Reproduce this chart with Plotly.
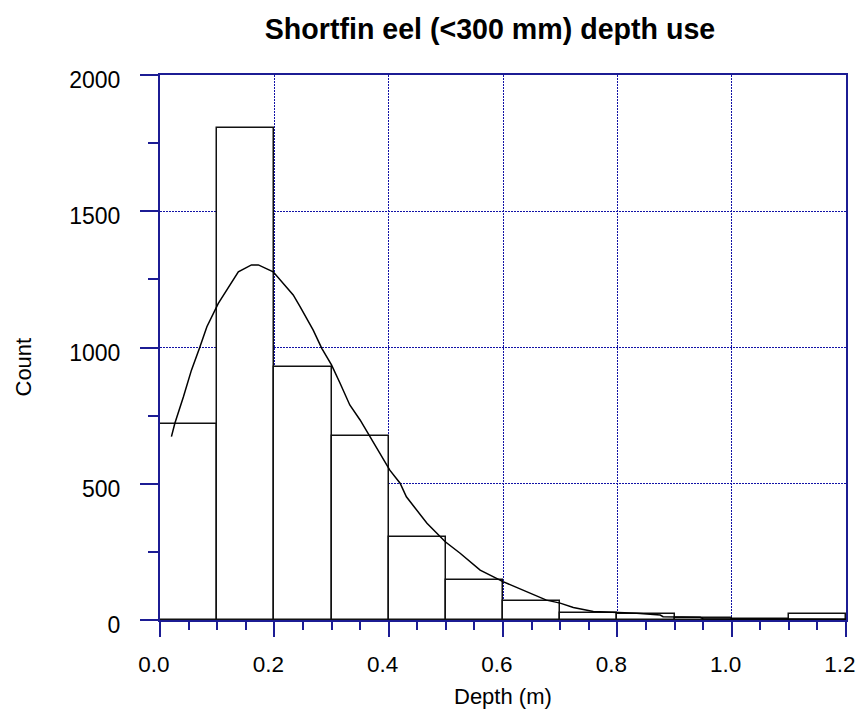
import plotly.graph_objects as go

# Histogram bins (depth, m) and counts
bin_left = [0.0, 0.1, 0.2, 0.3, 0.4, 0.5, 0.6, 0.7, 0.8, 0.9, 1.0, 1.1]
bin_width = 0.1
counts = [719, 1804, 930, 674, 305, 148, 71, 27, 22, 8, 2, 22]

# Smoothed density curve (scaled to counts)
curve_x = [0.020, 0.026, 0.041, 0.055, 0.069, 0.082, 0.102, 0.120, 0.137, 0.160, 0.172,
           0.198, 0.233, 0.245, 0.268, 0.283, 0.300, 0.315, 0.332, 0.350, 0.373, 0.402,
           0.420, 0.431, 0.467, 0.499, 0.525, 0.560, 0.600, 0.641, 0.676, 0.700, 0.723,
           0.758, 0.799, 0.834, 0.875, 0.880, 0.945, 0.950, 1.000, 1.100, 1.200]
curve_y = [673, 722, 819, 917, 997, 1076, 1162, 1223, 1278, 1303, 1303,
           1278, 1193, 1150, 1064, 997, 936, 869, 789, 734, 654, 550,
           502, 452, 355, 287, 245, 183, 141, 104, 73, 62, 46,
           31, 28, 25, 18, 12, 10, 5, 4, 3, 3]

x_ticks = [0.0, 0.2, 0.4, 0.6, 0.8, 1.0, 1.2]
x_tick_text = ["0.0", "0.2", "0.4", "0.6", "0.8", "1.0", "1.2"]
y_ticks = [0, 500, 1000, 1500, 2000]
y_tick_text = ["0", "500", "1000", "1500", "2000"]

NAVY = "#1c1c94"
GRID = "#1212a6"
FONT = "Liberation Sans, Arial, sans-serif"

bin_centers = [b + bin_width / 2 for b in bin_left]

fig = go.Figure()
fig.add_trace(go.Bar(
    x=bin_centers, y=counts, width=[bin_width] * len(counts),
    marker=dict(color="white", line=dict(color="#111111", width=1.5)),
    showlegend=False, hoverinfo="skip",
))
fig.add_trace(go.Scatter(
    x=curve_x, y=curve_y, mode="lines",
    line=dict(color="black", width=1.5),
    showlegend=False, hoverinfo="skip",
))

fig.update_layout(
    width=859, height=709,
    margin=dict(l=160, r=13, t=75, b=89, autoexpand=False),
    plot_bgcolor="white", paper_bgcolor="white",
    font=dict(family=FONT, size=22, color="black"),
    bargap=0,
    title=dict(
        text="<b>Shortfin eel (&lt;300 mm) depth use</b>",
        font=dict(family=FONT, size=28.6, color="black"),
        x=490 / 859, xref="container", xanchor="center",
        y=1 - 29 / 709, yref="container", yanchor="middle",
    ),
    xaxis=dict(
        range=[0, 1.2], tickvals=x_ticks, ticktext=x_tick_text,
        showline=True, linecolor=NAVY, linewidth=2, mirror=True,
        ticks="outside", ticklen=15, tickwidth=2, tickcolor=NAVY,
        showgrid=True, gridcolor=GRID, gridwidth=1.2, griddash="2px,1px",
        zeroline=False, ticklabelstandoff=8, ticklabelshift=-6,
        automargin=False,
        tickfont=dict(family=FONT, size=22.5, color="black"),
        minor=dict(dtick=0.05, tick0=0, ticks="outside", ticklen=8,
                   tickwidth=2, tickcolor=NAVY, showgrid=False),
    ),
    yaxis=dict(
        range=[0, 2000], tickvals=y_ticks, ticktext=y_tick_text,
        showline=True, linecolor=NAVY, linewidth=2, mirror=True,
        ticks="outside", ticklen=18, tickwidth=2, tickcolor=NAVY,
        showgrid=True, gridcolor=GRID, gridwidth=1.2, griddash="2px,1px",
        zeroline=False, ticklabelstandoff=15, ticklabelshift=5,
        automargin=False,
        tickfont=dict(family=FONT, size=23, color="black"),
        minor=dict(dtick=250, tick0=0, ticks="outside", ticklen=10,
                   tickwidth=2, tickcolor=NAVY, showgrid=False),
    ),
    annotations=[
        dict(text="Count", xref="paper", yref="paper",
             x=(23 - 160) / 686, y=(620 - 367.5) / 545,
             xanchor="center", yanchor="middle", textangle=-90,
             showarrow=False, font=dict(family=FONT, size=22, color="black")),
        dict(text="Depth (m)", xref="paper", yref="paper",
             x=(503 - 160) / 686, y=(620 - 696) / 545,
             xanchor="center", yanchor="middle",
             showarrow=False, font=dict(family=FONT, size=22, color="black")),
    ],
)

fig.write_html("out.html")
